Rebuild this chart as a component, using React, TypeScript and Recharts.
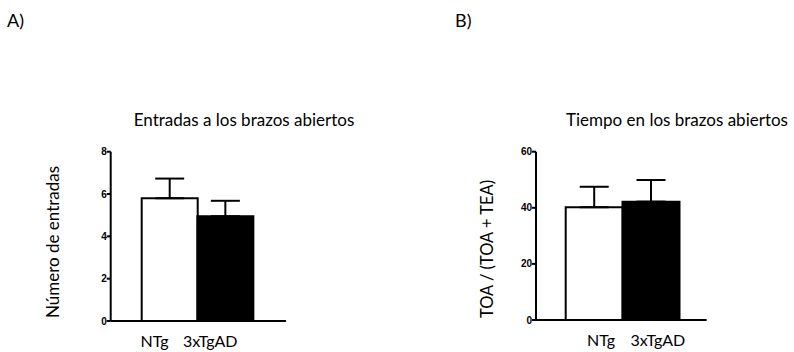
import React from 'react';
import { BarChart, Bar, XAxis, YAxis, ErrorBar, Cell } from 'recharts';

// Groups and per-group summaries (mean and SEM)
const groups = ['NTg', '3xTgAD'];
const entradasMean = [5.8, 4.95];
const entradasSem = [0.93, 0.73];
const tiempoMean = [40.2, 42.2];
const tiempoSem = [7.3, 7.7];
const entradasTicks = [0, 2, 4, 6, 8];
const tiempoTicks = [0, 20, 40, 60];
const groupFills = ['#ffffff', '#000000'];

const FONT = 'Lato, "Open Sans", sans-serif';

const buildRows = (means: number[], sems: number[]) =>
  groups.map((g, i) => ({ group: g, mean: means[i], err: [0, sems[i]] }));

const entradasRows = buildRows(entradasMean, entradasSem);
const tiempoRows = buildRows(tiempoMean, tiempoSem);

type TextProps = { x: number; y: number; text: string; size?: number; rotate?: boolean; align?: 'center' | 'left' };

const PageText = ({ x, y, text, size = 17, rotate = false, align = 'center' }: TextProps) => (
  <div
    style={{
      position: 'absolute',
      left: x,
      top: y,
      fontFamily: FONT,
      fontSize: size,
      color: '#000',
      whiteSpace: 'nowrap',
      lineHeight: 1,
      transform:
        align === 'left'
          ? 'translate(0, -50%)'
          : `translate(-50%, -50%)${rotate ? ' rotate(-90deg)' : ''}`,
    }}
  >
    {text}
  </div>
);

const makeGroupTick = (shift: number) => (props: any) => {
  const { x, y, payload } = props;
  return (
    <text
      x={x + shift}
      y={y + 18}
      textAnchor="middle"
      fontFamily={FONT}
      fontSize={16}
      fill="#000"
    >
      {payload.value}
    </text>
  );
};

const valueTick = { fontSize: 10, fontWeight: 700, fill: '#000', fontFamily: '"Liberation Sans", sans-serif' };

type PanelProps = {
  rows: { group: string; mean: number; err: number[] }[];
  ticks: number[];
  width: number;
  yAxisWidth: number;
  rightMargin: number;
  bottom: number;
  padding: { left: number; right: number };
  labelShift: number;
};

const Panel = ({ rows, ticks, width, yAxisWidth, rightMargin, bottom, padding, labelShift }: PanelProps) => (
  <BarChart
    width={width}
    height={352}
    data={rows}
    margin={{ top: 151.7, right: rightMargin, bottom: 0, left: 0 }}
    barCategoryGap={0}
  >
    <XAxis
      dataKey="group"
      padding={padding}
      axisLine={{ stroke: '#000', strokeWidth: 2 }}
      tickLine={false}
      tick={makeGroupTick(labelShift)}
      interval={0}
      height={bottom}
    />
    <YAxis
      width={yAxisWidth}
      domain={[ticks[0], ticks[ticks.length - 1]]}
      ticks={ticks}
      interval={0}
      axisLine={{ stroke: '#000', strokeWidth: 2 }}
      tickLine={{ stroke: '#000', strokeWidth: 2 }}
      tickSize={4}
      tickMargin={0}
      tick={valueTick}
    />
    <Bar dataKey="mean" stroke="#000" strokeWidth={2} isAnimationActive={false}>
      {rows.map((r, i) => (
        <Cell key={r.group} fill={groupFills[i]} />
      ))}
      <ErrorBar dataKey="err" direction="y" width={14.5} stroke="#000" strokeWidth={2} />
    </Bar>
  </BarChart>
);

export default function App() {
  return (
    <div style={{ position: 'absolute', left: 0, top: 0, width: 794, height: 352, background: '#fff', overflow: 'hidden' }}>
      <PageText x={7} y={20} text="A)" align="left" size={18} />
      <PageText x={455} y={20} text="B)" align="left" size={18} />

      <div style={{ position: 'absolute', left: 0, top: 0 }}>
        <Panel
          rows={entradasRows}
          ticks={entradasTicks}
          width={397}
          yAxisWidth={110.7}
          rightMargin={111}
          bottom={31}
          padding={{ left: 31, right: 33 }}
          labelShift={-15}
        />
      </div>
      <div style={{ position: 'absolute', left: 397, top: 0 }}>
        <Panel
          rows={tiempoRows}
          ticks={tiempoTicks}
          width={397}
          yAxisWidth={139}
          rightMargin={87.3}
          bottom={32}
          padding={{ left: 29.7, right: 27.4 }}
          labelShift={7}
        />
      </div>

      <PageText x={244} y={119} text="Entradas a los brazos abiertos" />
      <PageText x={677} y={119} text="Tiempo en los brazos abiertos" />
      <PageText x={52} y={241.7} text="Número de entradas" size={17} rotate />
      <PageText x={486.7} y={249} text="TOA / (TOA + TEA)" size={16.5} rotate />
    </div>
  );
}
